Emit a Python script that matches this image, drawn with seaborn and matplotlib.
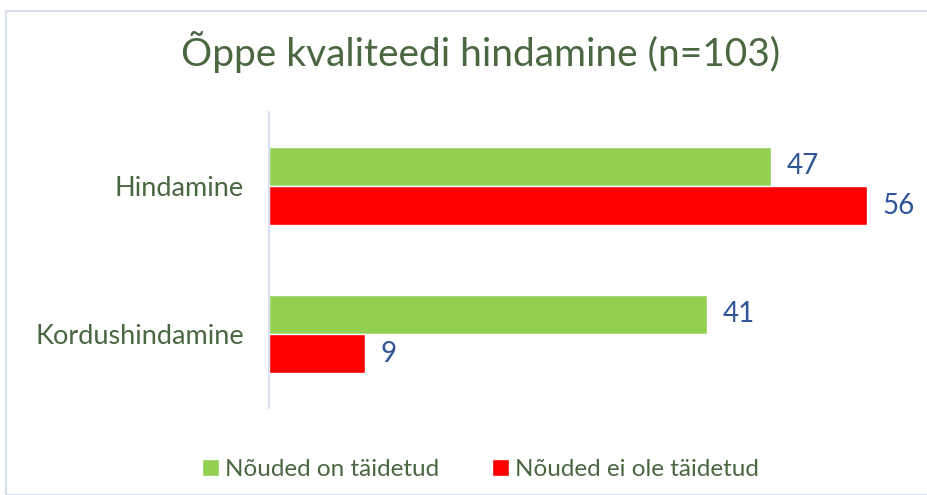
import pandas as pd
import seaborn as sns
import matplotlib.pyplot as plt
from matplotlib.patches import Rectangle

# andmed
categories = ['Hindamine', 'Kordushindamine']
series = ['Nõuded on täidetud', 'Nõuded ei ole täidetud']
taidetud = [47, 41]
ei_taidetud = [56, 9]

colors = ['#92D050', '#FF0000']
text_green = '#4A6741'
label_blue = '#2F5597'

df = pd.DataFrame({
    'kategooria': categories * 2,
    'seeria': [series[0]] * 2 + [series[1]] * 2,
    'vaartus': taidetud + ei_taidetud,
})

sns.set_theme(style='white')
plt.rcParams['font.family'] = ['Lato', 'DejaVu Sans']

fig = plt.figure(figsize=(9.28, 4.95), dpi=100)
ax = fig.add_axes([269 / 928, 87 / 495, 641 / 928, 296 / 495])

sns.barplot(data=df, y='kategooria', x='vaartus', hue='seeria',
            palette=colors, orient='h', width=0.53, saturation=1,
            ax=ax, legend=True)

ax.set_xlim(0, 60)
ax.set_xlabel('')
ax.set_ylabel('')
ax.set_xticks([])
for s in ['top', 'right', 'bottom']:
    ax.spines[s].set_visible(False)
ax.spines['left'].set_color('#D0DAF0')
ax.spines['left'].set_linewidth(1.2)
ax.tick_params(axis='y', length=0, pad=18, labelsize=19.5, labelcolor=text_green)

for cont in ax.containers:
    ax.bar_label(cont, padding=11, fontsize=20, color=label_blue)

ax.legend(loc='upper center', bbox_to_anchor=(0.33, -0.1), ncol=2,
          frameon=False, fontsize=17.5, handlelength=0.7, handleheight=0.7,
          handletextpad=0.25, columnspacing=2.2, labelcolor=text_green)

fig.text(481 / 928, 1 - 52 / 495, 'Õppe kvaliteedi hindamine (n=103)',
         ha='center', va='center', fontsize=28, color=text_green)

# raam ümber joonise
fig.patches.append(Rectangle((6 / 928, 0), 1, 1 - 11 / 495,
                             transform=fig.transFigure, fill=False,
                             edgecolor='#D6DEF0', linewidth=1.5))

fig.savefig('out.png', dpi=100)
